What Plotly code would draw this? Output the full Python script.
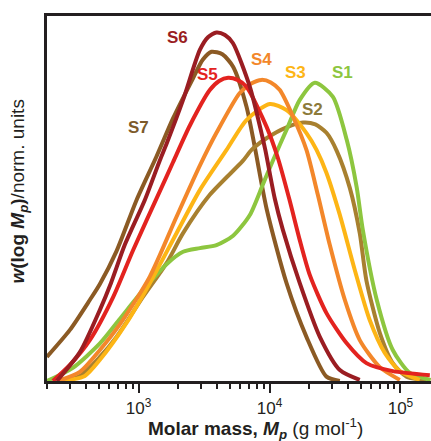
import numpy as np
import plotly.graph_objects as go

# log10 of molar mass (g/mol) and normalised w(log M)
s1_logm = [2.300, 2.498, 2.705, 2.857, 3.035, 3.214, 3.340, 3.468, 3.595, 3.722, 3.850, 3.951, 4.027, 4.132, 4.231, 4.346, 4.483, 4.590, 4.666, 4.712, 4.819, 4.941, 5.071, 5.231]
s1_w    = [0.000, 0.036, 0.103, 0.170, 0.249, 0.320, 0.354, 0.364, 0.372, 0.398, 0.455, 0.540, 0.605, 0.690, 0.770, 0.817, 0.779, 0.660, 0.530, 0.415, 0.222, 0.085, 0.022, 0.003]

s2_logm = [2.399, 2.552, 2.705, 2.832, 3.035, 3.214, 3.340, 3.544, 3.796, 3.863, 3.977, 4.130, 4.256, 4.350, 4.435, 4.514, 4.613, 4.689, 4.740, 4.842, 4.941, 5.046, 5.198]
s2_w    = [0.000, 0.014, 0.066, 0.121, 0.231, 0.323, 0.405, 0.510, 0.603, 0.633, 0.665, 0.695, 0.708, 0.703, 0.680, 0.630, 0.529, 0.405, 0.275, 0.132, 0.049, 0.012, 0.003]

s3_logm = [2.415, 2.590, 2.705, 2.908, 3.086, 3.290, 3.468, 3.672, 3.824, 4.002, 4.130, 4.282, 4.359, 4.435, 4.537, 4.651, 4.765, 4.880, 4.995, 5.147]
s3_w    = [0.000, 0.014, 0.058, 0.159, 0.268, 0.405, 0.523, 0.633, 0.715, 0.759, 0.742, 0.679, 0.633, 0.570, 0.455, 0.304, 0.167, 0.077, 0.027, 0.003]

s4_logm = [2.384, 2.552, 2.705, 2.857, 3.086, 3.290, 3.468, 3.595, 3.773, 3.860, 3.939, 4.010, 4.079, 4.180, 4.282, 4.369, 4.460, 4.575, 4.689, 4.842, 4.995]
s4_w    = [0.000, 0.025, 0.085, 0.155, 0.286, 0.450, 0.590, 0.680, 0.789, 0.815, 0.825, 0.818, 0.797, 0.724, 0.633, 0.510, 0.373, 0.222, 0.112, 0.038, 0.003]

s5_logm = [2.346, 2.476, 2.628, 2.806, 2.959, 3.163, 3.264, 3.392, 3.544, 3.615, 3.684, 3.755, 3.824, 3.977, 4.064, 4.155, 4.231, 4.308, 4.435, 4.588, 4.740, 4.941, 5.224]
s5_w    = [0.000, 0.044, 0.112, 0.230, 0.359, 0.520, 0.600, 0.700, 0.797, 0.822, 0.831, 0.825, 0.806, 0.697, 0.611, 0.493, 0.386, 0.290, 0.186, 0.104, 0.049, 0.027, 0.016]

s6_logm = [2.376, 2.552, 2.705, 2.789, 2.895, 3.048, 3.163, 3.214, 3.340, 3.468, 3.530, 3.595, 3.660, 3.720, 3.850, 3.939, 3.968, 4.040, 4.102, 4.231, 4.384, 4.537, 4.689]
s6_w    = [0.000, 0.079, 0.195, 0.268, 0.373, 0.496, 0.605, 0.650, 0.770, 0.907, 0.942, 0.955, 0.948, 0.926, 0.806, 0.679, 0.633, 0.500, 0.414, 0.268, 0.121, 0.030, 0.003]

s7_logm = [2.300, 2.476, 2.628, 2.705, 2.832, 2.985, 3.137, 3.264, 3.417, 3.490, 3.557, 3.640, 3.722, 3.824, 3.888, 3.979, 4.130, 4.282, 4.435, 4.537]
s7_w    = [0.066, 0.140, 0.222, 0.266, 0.356, 0.496, 0.615, 0.720, 0.830, 0.880, 0.902, 0.895, 0.861, 0.752, 0.640, 0.470, 0.268, 0.121, 0.012, 0.000]

series = [
    ("S7", s7_logm, s7_w, "#8B5A24"),
    ("S2", s2_logm, s2_w, "#A8802F"),
    ("S1", s1_logm, s1_w, "#8DC63F"),
    ("S3", s3_logm, s3_w, "#FDB515"),
    ("S4", s4_logm, s4_w, "#F3872A"),
    ("S5", s5_logm, s5_w, "#E3231F"),
    ("S6", s6_logm, s6_w, "#9A1D22"),
]

fig = go.Figure()
for name, lm, w, col in series:
    fig.add_trace(go.Scatter(
        x=[10 ** v for v in lm], y=w, mode="lines", name=name,
        line=dict(color=col, width=4, shape="spline", smoothing=0.7),
        showlegend=False, cliponaxis=True,
    ))

labels = [
    ("S6", 3.294, 0.940, "#9A1D22"),
    ("S5", 3.530, 0.840, "#E3231F"),
    ("S4", 3.940, 0.880, "#F3872A"),
    ("S3", 4.195, 0.845, "#FDB515"),
    ("S1", 4.560, 0.845, "#8DC63F"),
    ("S2", 4.330, 0.745, "#8C7A3A"),
    ("S7", 2.998, 0.695, "#7D5A2A"),
]
for t, lx, ly, col in labels:
    fig.add_annotation(x=lx, y=ly, xref="x", yref="y", text="<b>%s</b>" % t,
                       showarrow=False, font=dict(family="Liberation Sans, Arial", size=17, color=col))

fig.add_annotation(xref="paper", yref="paper", x=0.542, y=-0.129, yanchor="middle", xanchor="center",
                   text="<b>Molar mass, <i>M<sub>p</sub></i></b> (g mol<sup>-1</sup>)",
                   showarrow=False, font=dict(family="Liberation Sans, Arial", size=19, color="#231F20"))
fig.add_annotation(xref="paper", yref="paper", x=-0.072, y=0.52, textangle=-90,
                   xanchor="center", yanchor="middle",
                   text="<b><i>w</i>(log <i>M<sub>p</sub></i>)</b>/norm. units",
                   showarrow=False, font=dict(family="Liberation Sans, Arial", size=19, color="#231F20"))

fig.update_xaxes(
    type="log", range=[np.log10(200), 5.233],
    showline=True, linecolor="#231F20", linewidth=2.5, mirror=True,
    ticks="outside", ticklen=9, tickwidth=2, tickcolor="#231F20",
    tickvals=[1e3, 1e4, 1e5], ticktext=["10<sup>3</sup>", "10<sup>4</sup>", "10<sup>5</sup>"],
    tickfont=dict(family="Liberation Sans, Arial", size=17, color="#231F20"),
    ticklabelstandoff=1,
    minor=dict(ticks="outside", ticklen=5, tickwidth=1.5, tickcolor="#231F20",
               tickvals=[200, 300, 400, 500, 600, 700, 800, 900,
                         2000, 3000, 4000, 5000, 6000, 7000, 8000, 9000,
                         20000, 30000, 40000, 50000, 60000, 70000, 80000, 90000,
                         200000], showgrid=False),
    showgrid=False, zeroline=False,
)
fig.update_yaxes(
    range=[0, 1.0], showline=True, linecolor="#231F20", linewidth=2.5,
    showticklabels=False, ticks="", showgrid=False, zeroline=False,
)
fig.update_layout(
    width=431, height=441, margin=dict(l=47, r=0, t=16, b=60),
    plot_bgcolor="white", paper_bgcolor="white",
)
fig.write_html("out.html")
